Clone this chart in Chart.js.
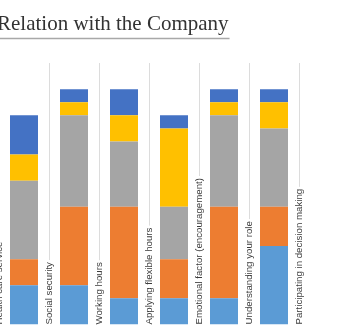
<!DOCTYPE html>
<html>
<head>
<meta charset="utf-8">
<script src="https://cdn.jsdelivr.net/npm/chart.js@4.4.0/dist/chart.umd.min.js"></script>
<style>
html, body { margin: 0; padding: 0; background: #fff; overflow: hidden; }
#wrap { position: absolute; left: -51px; top: 0; width: 405px; height: 336px; }
</style>
</head>
<body>
<div id="wrap"><canvas id="relationChart"></canvas></div>
<script>
var titleText = "Relation with the Company"
var categories = ["Health care service", "Social security", "Working hours", "Applying flexible hours",
	"Emotional factor (encouragement)", "Understanding your role", "Participating in decision making"]

// number of answers per level, lowest level first (stacked from the bottom)
// health care counts sit outside the visible part, left empty
var level1 = [null, 3, 3, 2, 2, 2, 6]
var level2 = [null, 2, 6, 7, 3, 7, 3]
var level3 = [null, 6, 7, 5, 4, 7, 6]
var level4 = [null, 2, 1, 2, 6, 1, 2]
var level5 = [null, 3, 1, 2, 1, 1, 1]

var colors = ["#5b9bd5", "#ed7d31", "#a5a5a5", "#ffc000", "#4472c4"]

// category names stand upright on the dividing line right of each bar
var categoryLabels = {
	id: 'categoryLabels',
	afterDatasetsDraw: function(chart) {
		var ctx = chart.ctx
		var area = chart.chartArea
		var xs = chart.scales.x
		var slot = xs.width / categories.length
		ctx.save()
		ctx.font = '9.7px "Liberation Sans", Arial, sans-serif'
		for (var i = 0; i < categories.length; i++) {
			var px = xs.getPixelForValue(i) + slot / 2
			var len = ctx.measureText(categories[i]).width
			ctx.fillStyle = '#fff'
			ctx.fillRect(px - 6, area.bottom - len - 2, 12, len + 4)
			ctx.save()
			ctx.translate(px, area.bottom)
			ctx.rotate(-Math.PI / 2)
			ctx.fillStyle = '#3c3c3c'
			ctx.textBaseline = 'middle'
			ctx.textAlign = 'left'
			ctx.fillText(categories[i], 0, 0)
			ctx.restore()
		}
		ctx.restore()
	}
}

// heading with a rule under it
var headline = {
	id: 'headline',
	afterDraw: function(chart) {
		var ctx = chart.ctx
		var tx = 48
		ctx.save()
		ctx.font = '21px "Liberation Serif", "Times New Roman", serif'
		ctx.fillStyle = '#333'
		ctx.textBaseline = 'alphabetic'
		ctx.fillText(titleText, tx, 30)
		var w = ctx.measureText(titleText).width
		ctx.strokeStyle = '#a8a8a8'
		ctx.lineWidth = 1.5
		ctx.beginPath()
		ctx.moveTo(tx, 38.5)
		ctx.lineTo(tx + w + 1, 38.5)
		ctx.stroke()
		ctx.restore()
	}
}

var series = [level1, level2, level3, level4, level5]
var datasets = []
for (var s = 0; s < series.length; s++) {
	datasets.push({
		label: "Level " + (s + 1),
		data: series[s],
		backgroundColor: colors[s],
		borderWidth: 0,
		barPercentage: 0.56,
		categoryPercentage: 1
	})
}

var ctx = document.getElementById("relationChart").getContext("2d")
var chart = new Chart(ctx, {
	type: 'bar',
	data: { labels: categories, datasets: datasets },
	options: {
		responsive: true,
		maintainAspectRatio: false,
		animation: false,
		layout: { padding: { top: 63, bottom: 11.5, left: 0, right: 55 } },
		plugins: {
			legend: { display: false },
			tooltip: { enabled: false }
		},
		scales: {
			x: {
				stacked: true,
				grid: { offset: true, color: '#dcdcdc', lineWidth: 1, drawTicks: false },
				border: { display: false },
				ticks: { display: false }
			},
			y: {
				stacked: true,
				display: false,
				min: 0,
				max: 20
			}
		}
	},
	plugins: [categoryLabels, headline]
})
</script>
</body>
</html>
